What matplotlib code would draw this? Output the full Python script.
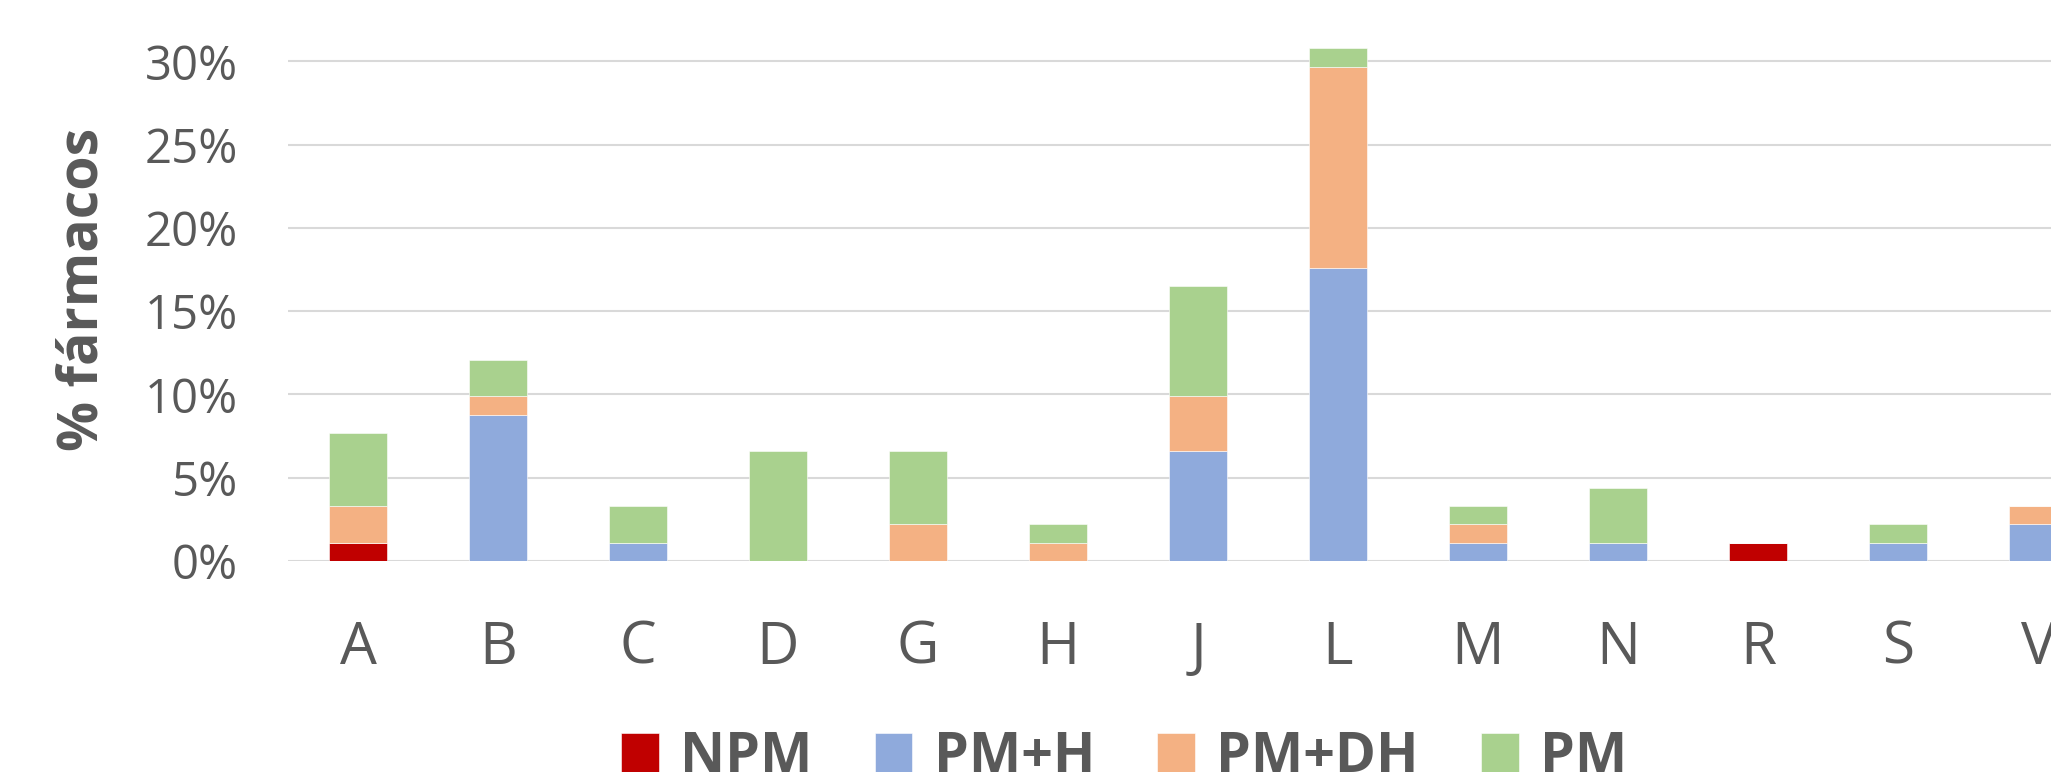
import matplotlib
matplotlib.use("Agg")
import matplotlib.pyplot as plt
from matplotlib.ticker import PercentFormatter
import numpy as np

categories = ["A", "B", "C", "D", "G", "H", "J", "L", "M", "N", "R", "S", "V"]
series_names = ["NPM", "PM+H", "PM+DH", "PM"]
npm   = [1.10, 0, 0, 0, 0, 0, 0, 0, 0, 0, 1.10, 0, 0]
pm_h  = [0, 8.79, 1.10, 0, 0, 0, 6.59, 17.58, 1.10, 1.10, 0, 1.10, 2.20]
pm_dh = [2.20, 1.10, 0, 0, 2.20, 1.10, 3.30, 12.09, 1.10, 0, 0, 0, 1.10]
pm    = [4.40, 2.20, 2.20, 6.59, 4.40, 1.10, 6.59, 1.10, 1.10, 3.30, 0, 1.10, 0]
yticks = [0, 5, 10, 15, 20, 25, 30]

colors = ["#C00000", "#8FAADC", "#F4B183", "#A9D18E"]
text_color = "#595959"
font = "Open Sans"

W, H = 2051, 772
fig = plt.figure(figsize=(W / 100, H / 100), dpi=100)
ax = fig.add_axes([288 / W, (H - 561) / H, 1820 / W, 583 / H])

x = np.arange(len(categories))
bottom = np.zeros(len(categories))
handles = []
for name, vals, c in zip(series_names, [npm, pm_h, pm_dh, pm], colors):
    v = np.array(vals, dtype=float)
    b = ax.bar(x, v, width=0.414, bottom=bottom, color=c, label=name,
               edgecolor="white", linewidth=0.4, zorder=3)
    handles.append(b)
    bottom += v

ax.set_xlim(-0.5, len(categories) - 0.5)
ax.set_ylim(0, 35)
ax.set_yticks(yticks)
ax.yaxis.set_major_formatter(PercentFormatter(xmax=100, decimals=0))
ax.set_xticks(x)
ax.set_xticklabels(categories)

for s in ax.spines.values():
    s.set_visible(False)
ax.grid(axis="y", color="#D9D9D9", linewidth=1.5, zorder=0)
ax.set_axisbelow(True)

ax.tick_params(axis="both", length=0, colors=text_color)
ax.tick_params(axis="y", pad=36, labelsize=34)
ax.tick_params(axis="x", pad=42, labelsize=42)
for lab in ax.get_xticklabels() + ax.get_yticklabels():
    lab.set_fontfamily(font)
    lab.set_color(text_color)

ax.set_ylabel("% fármacos", fontsize=40, fontweight="bold", color=text_color,
              fontfamily=font)
ax.yaxis.set_label_coords((83 - 288) / 1820, (561 - 289) / 583)
ax.yaxis.label.set_verticalalignment("center")

leg = fig.legend(handles=handles, labels=series_names, loc="upper center",
                 bbox_to_anchor=(1124 / W, (H - 730) / H), ncol=4, frameon=False,
                 borderaxespad=0, borderpad=0, handlelength=0.68, handleheight=0.68,
                 handletextpad=0.38, columnspacing=1.12,
                 prop={"family": font, "weight": "bold", "size": 40})
for t in leg.get_texts():
    t.set_color(text_color)

fig.savefig("out.png", dpi=100)
